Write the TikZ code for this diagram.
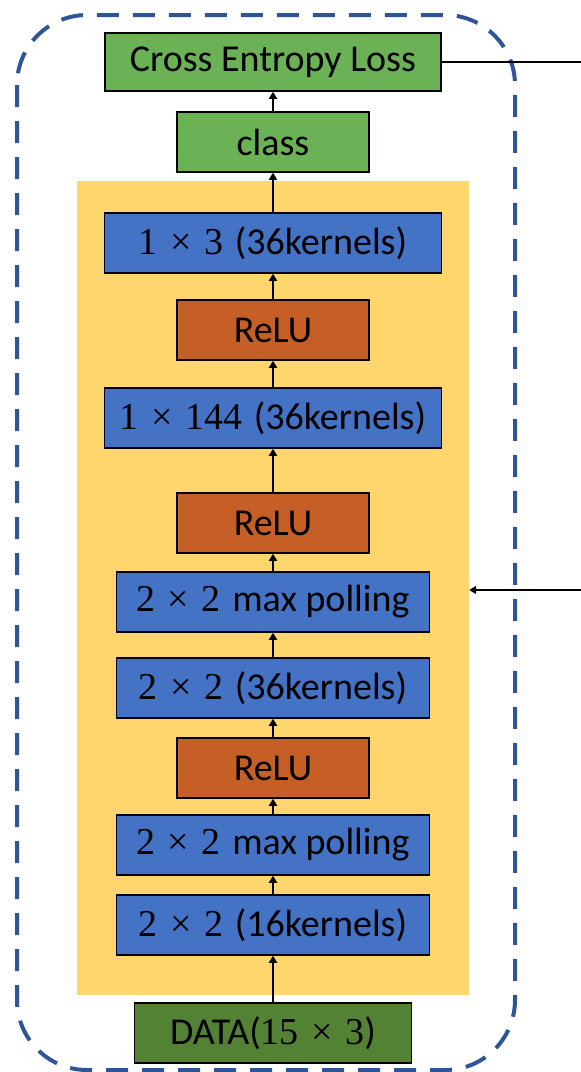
\documentclass[tikz,border=0pt]{standalone}
\usepackage{fontspec}
\setmainfont{Carlito}
\newfontfamily\numfont{Liberation Serif}
\usetikzlibrary{arrows.meta}
\definecolor{lgreen}{HTML}{6AB255}
\definecolor{dgreen}{HTML}{548235}
\definecolor{bluebox}{HTML}{4472C4}
\definecolor{orangebox}{HTML}{C55F25}
\definecolor{yellowbg}{HTML}{FFD56D}
\definecolor{dashblue}{HTML}{2F5597}
\newcommand{\mtimes}[2]{{\numfont #1\hspace{0.33em}×\hspace{0.33em}#2}}
\begin{document}
\begin{tikzpicture}[x=1pt,y=-1pt,
  box/.style={draw=black, line width=1.5pt, minimum height=60pt, inner sep=0pt,
    font=\fontsize{38}{40}\selectfont, text=black},
  gbox/.style={box, fill=lgreen},
  dbox/.style={box, fill=dgreen},
  bbox/.style={box, fill=bluebox},
  obox/.style={box, fill=orangebox},
  arr/.style={line width=2pt, -{Triangle[length=7pt,width=8pt]}},
  dashbox/.style={draw=dashblue, line width=4pt, dash pattern=on 22pt off 14pt}]
\useasboundingbox (0,0) rectangle (581,1072);
\draw[dashbox, rounded corners=70pt] (17,15) rectangle (515,1070);
\node[fill=yellowbg, minimum width=392pt, minimum height=814pt, inner sep=0pt] (feat) at (273,588) {};
\node[gbox, minimum width=336pt, minimum height=58pt] (ce) at (273,62) {Cross Entropy Loss};
\node[gbox, minimum width=192pt] (cls) at (273,142) {class};
\node[bbox, minimum width=337pt] (c13) at (273,243) {\mtimes{1}{3}\hspace{0.3em}(36kernels)};
\node[obox, minimum width=192pt] (r1) at (273,330) {ReLU};
\node[bbox, minimum width=337pt] (c144) at (273,418) {\mtimes{1}{144}\hspace{0.3em}(36kernels)};
\node[obox, minimum width=192pt] (r2) at (273,523) {ReLU};
\node[bbox, minimum width=313pt] (mp1) at (273,602) {\mtimes{2}{2}\hspace{0.3em}max polling};
\node[bbox, minimum width=313pt] (c36) at (273,688) {\mtimes{2}{2}\hspace{0.3em}(36kernels)};
\node[obox, minimum width=192pt] (r3) at (273,768) {ReLU};
\node[bbox, minimum width=313pt] (mp2) at (273,845) {\mtimes{2}{2}\hspace{0.3em}max polling};
\node[bbox, minimum width=313pt] (c16) at (273,925) {\mtimes{2}{2}\hspace{0.3em}(16kernels)};
\node[dbox, minimum width=277pt] (data) at (273,1033) {DATA(\mtimes{15}{3})};
\draw[arr] (cls) -- (ce);
\draw[arr] (c13) -- (cls);
\draw[arr] (r1) -- (c13);
\draw[arr] (c144) -- (r1);
\draw[arr] (r2) -- (c144);
\draw[arr] (mp1) -- (r2);
\draw[arr] (c36) -- (mp1);
\draw[arr] (r3) -- (c36);
\draw[arr] (mp2) -- (r3);
\draw[arr] (c16) -- (mp2);
\draw[arr] (data) -- (c16);
\coordinate (outR) at (581,62);
\draw[line width=2pt] (ce.east) -- (outR);
\coordinate (inR) at (581,590);
\draw[arr] (inR) -- (feat.east |- inR);
\end{tikzpicture}
\end{document}
